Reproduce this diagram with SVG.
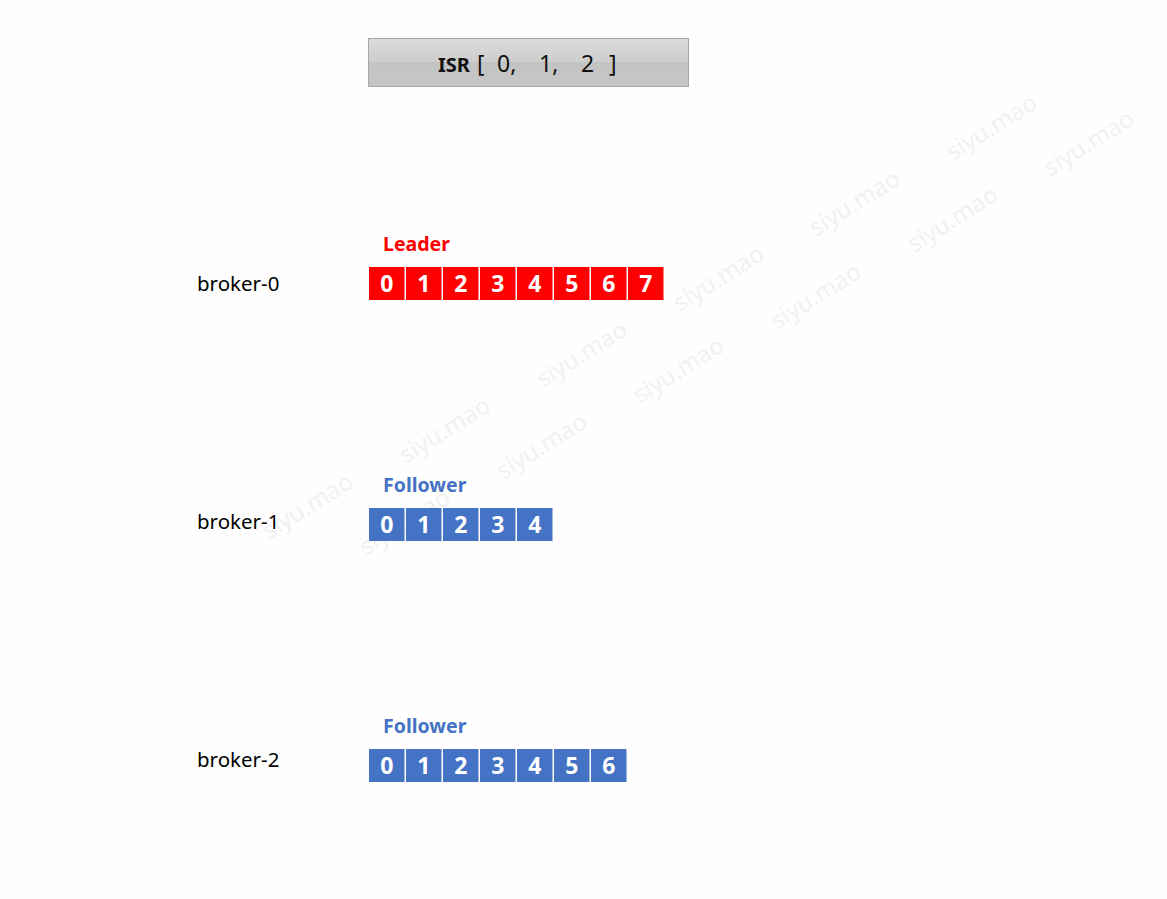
<svg xmlns="http://www.w3.org/2000/svg" width="1167" height="899" viewBox="0 0 1167 899">
<defs>
<linearGradient id="isrg" x1="0" y1="0" x2="0" y2="1">
<stop offset="0" stop-color="#dcdcdc"/>
<stop offset="0.5" stop-color="#cdcdcd"/>
<stop offset="0.5" stop-color="#c3c3c3"/>
<stop offset="1" stop-color="#c6c6c6"/>
</linearGradient>
</defs>
<style>
.wm{font-family:"Noto Sans","Open Sans",sans-serif;font-size:24px;fill:#f1f1f1;text-anchor:middle}
.broker{font-family:"Noto Sans","Open Sans",sans-serif;font-size:20.5px;fill:#000}
.role{font-family:"Noto Sans","Open Sans",sans-serif;font-size:19.5px;font-weight:bold}
.cell text{font-family:"Noto Sans","Open Sans",sans-serif;font-size:23px;font-weight:bold;fill:#fff;text-anchor:middle}
.red rect{fill:#ff0000}
.blue rect{fill:#4472c4}
</style>
<rect width="1167" height="899" fill="#fefefe"/>
<g id="watermarks">
<text class="wm" transform="translate(996,134) rotate(-32)">siyu.mao</text>
<text class="wm" transform="translate(1093,150) rotate(-32)">siyu.mao</text>
<text class="wm" transform="translate(859,210) rotate(-32)">siyu.mao</text>
<text class="wm" transform="translate(957,226) rotate(-32)">siyu.mao</text>
<text class="wm" transform="translate(723,285) rotate(-32)">siyu.mao</text>
<text class="wm" transform="translate(820,303) rotate(-32)">siyu.mao</text>
<text class="wm" transform="translate(586,361) rotate(-32)">siyu.mao</text>
<text class="wm" transform="translate(683,377) rotate(-32)">siyu.mao</text>
<text class="wm" transform="translate(449,437) rotate(-32)">siyu.mao</text>
<text class="wm" transform="translate(546,453) rotate(-32)">siyu.mao</text>
<text class="wm" transform="translate(312,513) rotate(-32)">siyu.mao</text>
<text class="wm" transform="translate(409,529) rotate(-32)">siyu.mao</text>
</g>
<g id="isr">
<rect x="368.5" y="38.5" width="320" height="48" fill="url(#isrg)" stroke="#a8a8a8" stroke-width="1"/>
<text y="72" font-family="Noto Sans, Open Sans, sans-serif" fill="#111">
<tspan x="438" font-size="20" font-weight="bold">ISR</tspan>
<tspan x="477" font-size="23">[</tspan>
<tspan x="497" font-size="23">0,</tspan>
<tspan x="539" font-size="23">1,</tspan>
<tspan x="581" font-size="23">2</tspan>
<tspan x="609" font-size="23">]</tspan>
</text>
</g>
<g id="broker-0">
<text class="broker" x="197" y="291">broker-0</text>
<text class="role" x="383" y="251" fill="#ff0000">Leader</text>
<g class="cell red">
<rect x="369" y="267" width="35.5" height="33"/><text x="386.8" y="292">0</text>
<rect x="406" y="267" width="35.5" height="33"/><text x="423.8" y="292">1</text>
<rect x="443" y="267" width="35.5" height="33"/><text x="460.8" y="292">2</text>
<rect x="480" y="267" width="35.5" height="33"/><text x="497.8" y="292">3</text>
<rect x="517" y="267" width="35.5" height="33"/><text x="534.8" y="292">4</text>
<rect x="554" y="267" width="35.5" height="33"/><text x="571.8" y="292">5</text>
<rect x="591" y="267" width="35.5" height="33"/><text x="608.8" y="292">6</text>
<rect x="628" y="267" width="35.5" height="33"/><text x="645.8" y="292">7</text>
</g>
</g>
<g id="broker-1">
<text class="broker" x="197" y="529">broker-1</text>
<text class="role" x="383" y="492" fill="#4472c4">Follower</text>
<g class="cell blue">
<rect x="369" y="508" width="35.5" height="33"/><text x="386.8" y="533">0</text>
<rect x="406" y="508" width="35.5" height="33"/><text x="423.8" y="533">1</text>
<rect x="443" y="508" width="35.5" height="33"/><text x="460.8" y="533">2</text>
<rect x="480" y="508" width="35.5" height="33"/><text x="497.8" y="533">3</text>
<rect x="517" y="508" width="35.5" height="33"/><text x="534.8" y="533">4</text>
</g>
</g>
<g id="broker-2">
<text class="broker" x="197" y="767">broker-2</text>
<text class="role" x="383" y="733" fill="#4472c4">Follower</text>
<g class="cell blue">
<rect x="369" y="749" width="35.5" height="33"/><text x="386.8" y="774">0</text>
<rect x="406" y="749" width="35.5" height="33"/><text x="423.8" y="774">1</text>
<rect x="443" y="749" width="35.5" height="33"/><text x="460.8" y="774">2</text>
<rect x="480" y="749" width="35.5" height="33"/><text x="497.8" y="774">3</text>
<rect x="517" y="749" width="35.5" height="33"/><text x="534.8" y="774">4</text>
<rect x="554" y="749" width="35.5" height="33"/><text x="571.8" y="774">5</text>
<rect x="591" y="749" width="35.5" height="33"/><text x="608.8" y="774">6</text>
</g>
</g>
<g id="connectors"></g>
</svg>
